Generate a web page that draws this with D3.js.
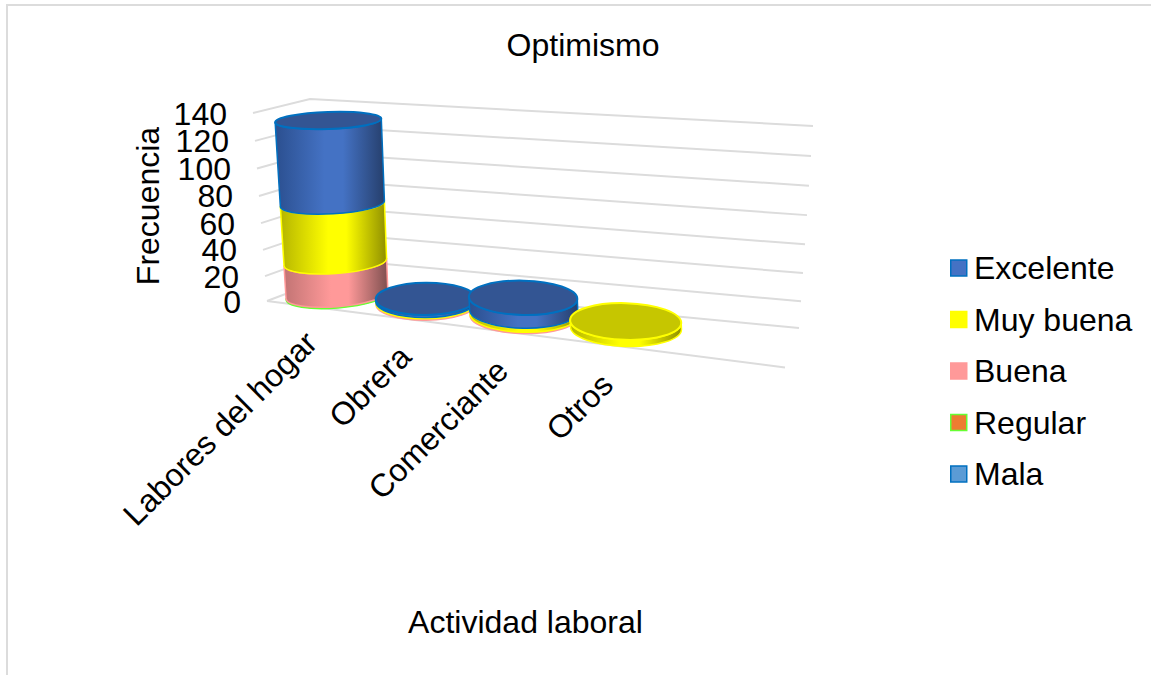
<!DOCTYPE html>
<html>
<head>
<meta charset="utf-8">
<script src="https://cdn.jsdelivr.net/npm/d3@7"></script>
<style>
body { margin: 0; background: #fff; }
text { font-family: "Liberation Sans", Arial, sans-serif; font-size: 32px; fill: #000; }
</style>
</head>
<body>
<script>
// data
const categories = ["Labores del hogar", "Obrera", "Comerciante", "Otros"];
const seriesNames = ["Excelente", "Muy buena", "Buena", "Regular", "Mala"];
const excelente = [64, 2, 10, 0];
const muyBuena = [45, 1, 3, 5];
const buena = [25, 1, 1, 0];
const regular = [1, 0, 0, 0];
const mala = [0, 0, 0, 0];
const yTicks = [0, 20, 40, 60, 80, 100, 120, 140];

const w = 1151, h = 675;
const svg = d3.select("body").append("svg").attr("width", w).attr("height", h);

// colours per series
const colors = {
  "Excelente": { fill: "#4472c4", left: "#2b4f8f", right: "#263f6c", top: "#335593", stroke: "#0070c0" },
  "Muy buena": { fill: "#ffff00", left: "#b5b500", right: "#8f8f00", top: "#c6c600", stroke: "#ffff00" },
  "Buena": { fill: "#ff9999", left: "#c27474", right: "#7f5050", top: "#c27474", stroke: "#ff9999" },
  "Regular": { fill: "#ed7d31", left: "#b25e25", right: "#8a4a1d", top: "#b25e25", stroke: "#66ff33" },
  "Mala": { fill: "#5b9bd5", left: "#4474a0", right: "#355a7c", top: "#4474a0", stroke: "#0070c0" }
};

const defs = svg.append("defs");
seriesNames.forEach((s, i) => {
  const g = defs.append("linearGradient").attr("id", "grad" + i);
  g.append("stop").attr("offset", "0%").attr("stop-color", colors[s].left);
  g.append("stop").attr("offset", "45%").attr("stop-color", colors[s].fill);
  g.append("stop").attr("offset", "62%").attr("stop-color", colors[s].fill);
  g.append("stop").attr("offset", "100%").attr("stop-color", colors[s].right);
});

// chart border
svg.append("path")
  .attr("d", "M7,675V5H1151")
  .attr("fill", "none")
  .attr("stroke", "#dcdcdc")
  .attr("stroke-width", 2);

// the three vertical edges of the 3d box
const edge = (x0, x1, y0, y1) => ({
  x: d3.scaleLinear().domain([0, 140]).range([x0, x1]),
  y: d3.scalePow().exponent(1.04).domain([0, 140]).range([y0, y1])
});
const front = edge(267, 253, 301, 113);
const back = edge(317, 310, 282, 99);
const right = edge(799, 813, 328, 126);

const gridLine = d3.line();
svg.append("g").selectAll("path")
  .data(yTicks)
  .enter()
  .append("path")
  .attr("d", d => gridLine([
    [front.x(d), front.y(d)],
    [back.x(d), back.y(d)],
    [right.x(d), right.y(d)]
  ]))
  .attr("fill", "none")
  .attr("stroke", "#dcdcdc")
  .attr("stroke-width", 2);

// floor front edge
svg.append("line")
  .attr("x1", front.x(0)).attr("y1", front.y(0))
  .attr("x2", 785).attr("y2", 367.5)
  .attr("stroke", "#dcdcdc")
  .attr("stroke-width", 2);

// y tick labels
svg.append("g").selectAll("text")
  .data(yTicks)
  .enter()
  .append("text")
  .attr("x", d => front.x(d) - 26)
  .attr("y", d => front.y(d) + 11.5)
  .attr("text-anchor", "end")
  .text(d => d);

// stack the series, bottom of the cylinder first
const table = categories.map((c, i) => ({
  category: c,
  "Excelente": excelente[i],
  "Muy buena": muyBuena[i],
  "Buena": buena[i],
  "Regular": regular[i],
  "Mala": mala[i]
}));
const stacked = d3.stack().keys(seriesNames.slice().reverse())(table);

// where each cylinder stands, one stop per category
const idx = [0, 1, 2, 3];
const xBase = d3.scaleLinear().domain(idx).range([337, 426, 524, 626]);
const yBase = d3.scaleLinear().domain(idx).range([296, 304, 316, 328]);
const rxBase = d3.scaleLinear().domain(idx).range([51, 50, 54, 55.5]);
const ryBase = d3.scaleLinear().domain(idx).range([12, 16.2, 17.5, 18.5]);
const rotBase = d3.scaleLinear().domain(idx).range([-4.5, -0.5, 1, 1.5]);
const height = d3.scaleLinear().domain([0, 140]).range([0, 182]);

function ring(i, v) {
  const hh = height(v);
  const rot = rotBase(i) + 0.014 * hh;
  const rad = rot * Math.PI / 180;
  const cx = xBase(i) - 0.05 * hh;
  const cy = yBase(i) - hh;
  const rx = rxBase(i) + 0.012 * hh;
  const ry = ryBase(i) - 0.02 * hh;
  return {
    cx, cy, rx, ry, rot,
    lx: cx - rx * Math.cos(rad), ly: cy - rx * Math.sin(rad),
    rx2: cx + rx * Math.cos(rad), ry2: cy + rx * Math.sin(rad)
  };
}

function sidePath(i, v0, v1) {
  const a = ring(i, v0), b = ring(i, v1);
  return `M${a.lx},${a.ly}A${a.rx},${a.ry},${a.rot},0,0,${a.rx2},${a.ry2}` +
    `L${b.rx2},${b.ry2}A${b.rx},${b.ry},${b.rot},0,1,${b.lx},${b.ly}Z`;
}

const bars = svg.append("g");
categories.forEach((c, i) => {
  const g = bars.append("g").attr("class", "cylinder");
  let topSeries = null, topValue = 0;
  stacked.forEach(layer => {
    const [v0, v1] = layer[i];
    if (v1 > v0) {
      topSeries = layer.key;
      topValue = v1;
      g.append("path")
        .attr("d", sidePath(i, v0, v1))
        .attr("fill", "url(#grad" + seriesNames.indexOf(layer.key) + ")")
        .attr("stroke", colors[layer.key].stroke)
        .attr("stroke-width", 1.5)
        .attr("stroke-linejoin", "round");
    }
  });
  const t = ring(i, topValue);
  g.append("ellipse")
    .attr("rx", t.rx).attr("ry", t.ry)
    .attr("transform", `translate(${t.cx},${t.cy}) rotate(${t.rot})`)
    .attr("fill", colors[topSeries].top)
    .attr("stroke", colors[topSeries].stroke)
    .attr("stroke-width", 2);
});

// category labels
const xLabel = d3.scaleLinear().domain(idx).range([319, 413, 510, 615]);
const yLabel = d3.scaleLinear().domain(idx).range([345, 359, 373, 387]);
svg.append("g").selectAll("text")
  .data(categories)
  .enter()
  .append("text")
  .attr("text-anchor", "end")
  .attr("transform", (d, i) => `translate(${xLabel(i)},${yLabel(i)}) rotate(-45)`)
  .text(d => d);

// titles
svg.append("text").attr("x", 583).attr("y", 56).attr("text-anchor", "middle").text("Optimismo");
svg.append("text").attr("x", 525.5).attr("y", 633).attr("text-anchor", "middle").text("Actividad laboral");
svg.append("text")
  .attr("text-anchor", "middle")
  .attr("transform", "translate(159,206) rotate(-90)")
  .text("Frecuencia");

// legend
const legendY = d3.scalePoint().domain(seriesNames).range([268, 474]);
const legend = svg.append("g").selectAll("g")
  .data(seriesNames)
  .enter()
  .append("g")
  .attr("transform", d => `translate(950,${legendY(d)})`);
legend.append("rect")
  .attr("x", 0.75).attr("y", -8)
  .attr("width", 16).attr("height", 16)
  .attr("fill", d => colors[d].fill)
  .attr("stroke", d => colors[d].stroke)
  .attr("stroke-width", 1.5);
legend.append("text")
  .attr("x", 24)
  .attr("y", 11)
  .text(d => d);
</script>
</body>
</html>
